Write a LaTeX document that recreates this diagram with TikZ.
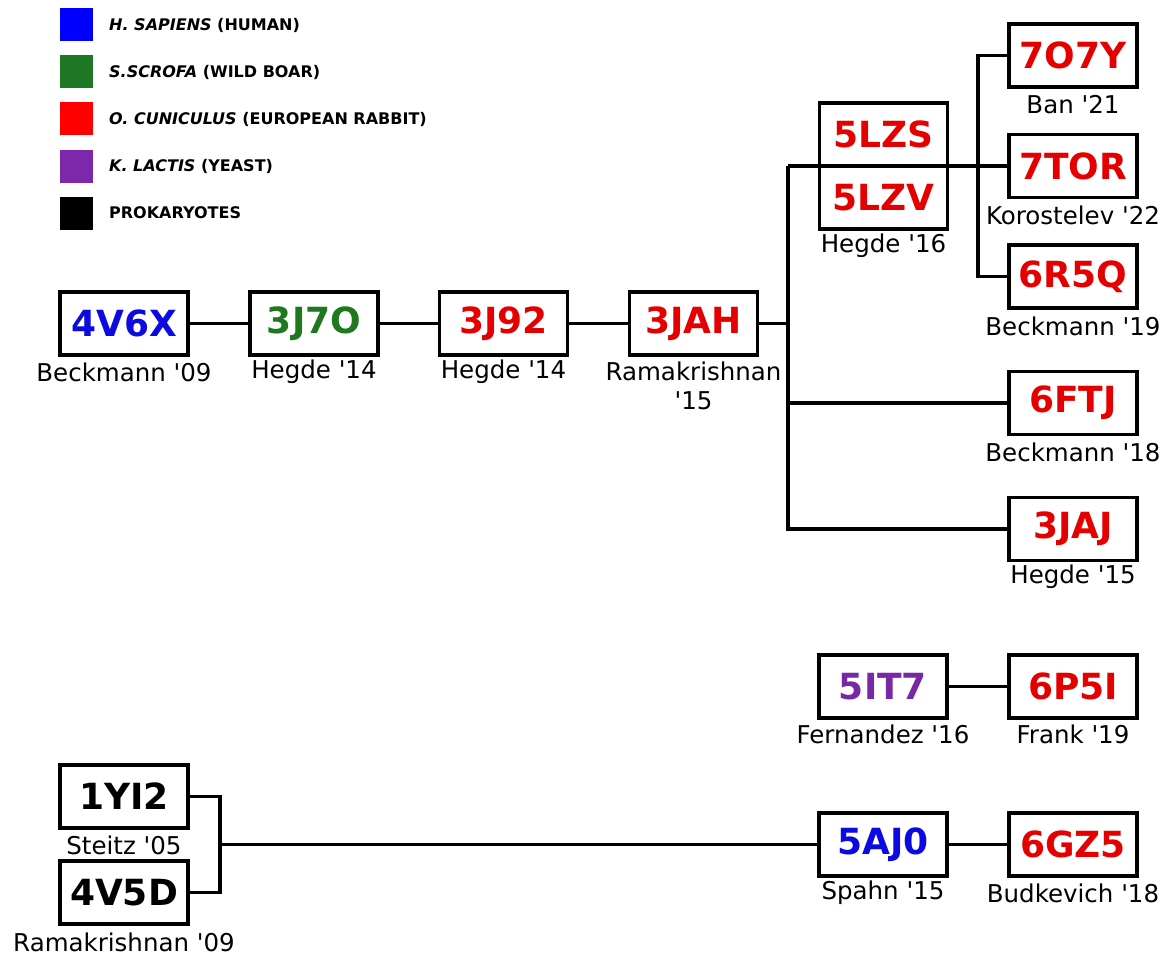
\documentclass[tikz,border=0pt]{standalone}
\usepackage{fontspec}
\setmainfont{DejaVu Sans}
\definecolor{cblue}{RGB}{10,10,225}
\definecolor{cgreen}{RGB}{30,120,30}
\definecolor{cred}{RGB}{228,0,0}
\definecolor{cpurple}{RGB}{120,40,165}
\definecolor{lblue}{RGB}{0,0,255}
\definecolor{lgreen}{RGB}{30,120,35}
\definecolor{lred}{RGB}{255,0,0}
\definecolor{lpurple}{RGB}{125,40,170}
\newcommand{\q}{\textquotesingle}
\tikzset{
  pdb/.style={draw=black, line width=3.5pt, minimum width=128pt, minimum height=63pt, inner sep=0pt,
    font=\fontsize{36}{36}\selectfont\bfseries},
  lab/.style={font=\fontsize{24.5}{24.5}\selectfont, inner sep=0pt, align=center},
  conn/.style={line width=3.5pt},
  legsq/.style={minimum width=33pt, minimum height=33pt, inner sep=0pt},
  legtx/.style={anchor=west, inner sep=0pt, font=\fontsize{16}{16}\selectfont\bfseries}
}
\begin{document}
\begin{tikzpicture}[x=1pt,y=-1pt]
\useasboundingbox (0,0) rectangle (1167,955);
% legend
\node[legsq, fill=lblue] (sq1) at (76.5,24.5) {};
\node[legsq, fill=lgreen] (sq2) at (76.5,71.5) {};
\node[legsq, fill=lred] (sq3) at (76.5,119) {};
\node[legsq, fill=lpurple] (sq4) at (76.5,166.5) {};
\node[legsq, fill=black] (sq5) at (76.5,213.5) {};
\node[legtx] (lt1) at (109,25) {\textit{H. SAPIENS} (HUMAN)};
\node[legtx] (lt2) at (109,72) {\textit{S.SCROFA} (WILD BOAR)};
\node[legtx] (lt3) at (109,119) {\textit{O. CUNICULUS} (EUROPEAN RABBIT)};
\node[legtx] (lt4) at (109,166) {\textit{K. LACTIS} (YEAST)};
\node[legtx] (lt5) at (109,213) {PROKARYOTES};
% main chain
\node[pdb, text=cblue] (4v6x) at (124,323.5) {4V6X};
\node[pdb, text=cgreen] (3j7o) at (314,323.5) {3J7O};
\node[pdb, text=cred] (3j92) at (503.5,323.5) {3J92};
\node[pdb, text=cred] (3jah) at (693.5,323.5) {3JAH};
\node[lab] (l4v6x) at (124,372) {Beckmann \q09};
\node[lab] (l3j7o) at (314,372) {Hegde \q14};
\node[lab] (l3j92) at (503.5,372) {Hegde \q14};
\node[lab] (l3jah) at (693.5,371) {Ramakrishnan};
\node[lab] (l3jah2) at (693.5,401) {\q15};
% branch boxes
\node[pdb, text=cred] (5lzs) at (883.5,134.5) {5LZS};
\node[pdb, text=cred] (5lzv) at (883.5,197.5) {5LZV};
\node[lab] (l5lz) at (883.5,246) {Hegde \q16};
\node[pdb, text=cred] (7o7y) at (1073,55.5) {7O7Y};
\node[lab] (l7o7y) at (1073,105) {Ban \q21};
\node[pdb, text=cred] (7tor) at (1073,166) {7TOR};
\node[lab] (l7tor) at (1073,215) {Korostelev \q22};
\node[pdb, text=cred] (6r5q) at (1073,276.5) {6R5Q};
\node[lab] (l6r5q) at (1073,326) {Beckmann \q19};
\node[pdb, text=cred] (6ftj) at (1073,403) {6FTJ};
\node[lab] (l6ftj) at (1073,452) {Beckmann \q18};
\node[pdb, text=cred] (3jaj) at (1073,529) {3JAJ};
\node[lab] (l3jaj) at (1073,577) {Hegde \q15};
% lower groups
\node[pdb, text=cpurple] (5it7) at (883,686.5) {5IT7};
\node[lab] (l5it7) at (883,734) {Fernandez \q16};
\node[pdb, text=cred] (6p5i) at (1073,686.5) {6P5I};
\node[lab] (l6p5i) at (1073,734) {Frank \q19};
\node[pdb, text=black] (1yi2) at (124,796.5) {1YI2};
\node[lab] (l1yi2) at (124,845) {Steitz \q05};
\node[pdb, text=black] (4v5d) at (124,892.5) {4V5D};
\node[lab] (l4v5d) at (124,942) {Ramakrishnan \q09};
\node[pdb, text=cblue] (5aj0) at (883,844.5) {5AJ0};
\node[lab] (l5aj0) at (883,893) {Spahn \q15};
\node[pdb, text=cred] (6gz5) at (1073,844.5) {6GZ5};
\node[lab] (l6gz5) at (1073,893) {Budkevich \q18};
% junction coordinates
\coordinate (jA) at (788,323.5);
\coordinate (jT) at (788,166);
\coordinate (jB) at (978,166);
\coordinate (jP) at (220,844.5);
% connectors
\draw[conn] (4v6x) -- (3j7o);
\draw[conn] (3j7o) -- (3j92);
\draw[conn] (3j92) -- (3jah);
\draw[conn] (3jah.east) -- (jA);
\draw[conn] (jT) |- (3jaj.west);
\draw[conn] (6ftj.west) -- (6ftj.west -| jT);
\draw[conn] (jT) -- (7tor.west);
\draw[conn] (7o7y.west) -| (jB) |- (6r5q.west);
\draw[conn] (5it7) -- (6p5i);
\draw[conn] (1yi2.east) -| (jP) |- (4v5d.east);
\draw[conn] (jP) -- (5aj0.west);
\draw[conn] (5aj0) -- (6gz5);
\end{tikzpicture}
\end{document}
